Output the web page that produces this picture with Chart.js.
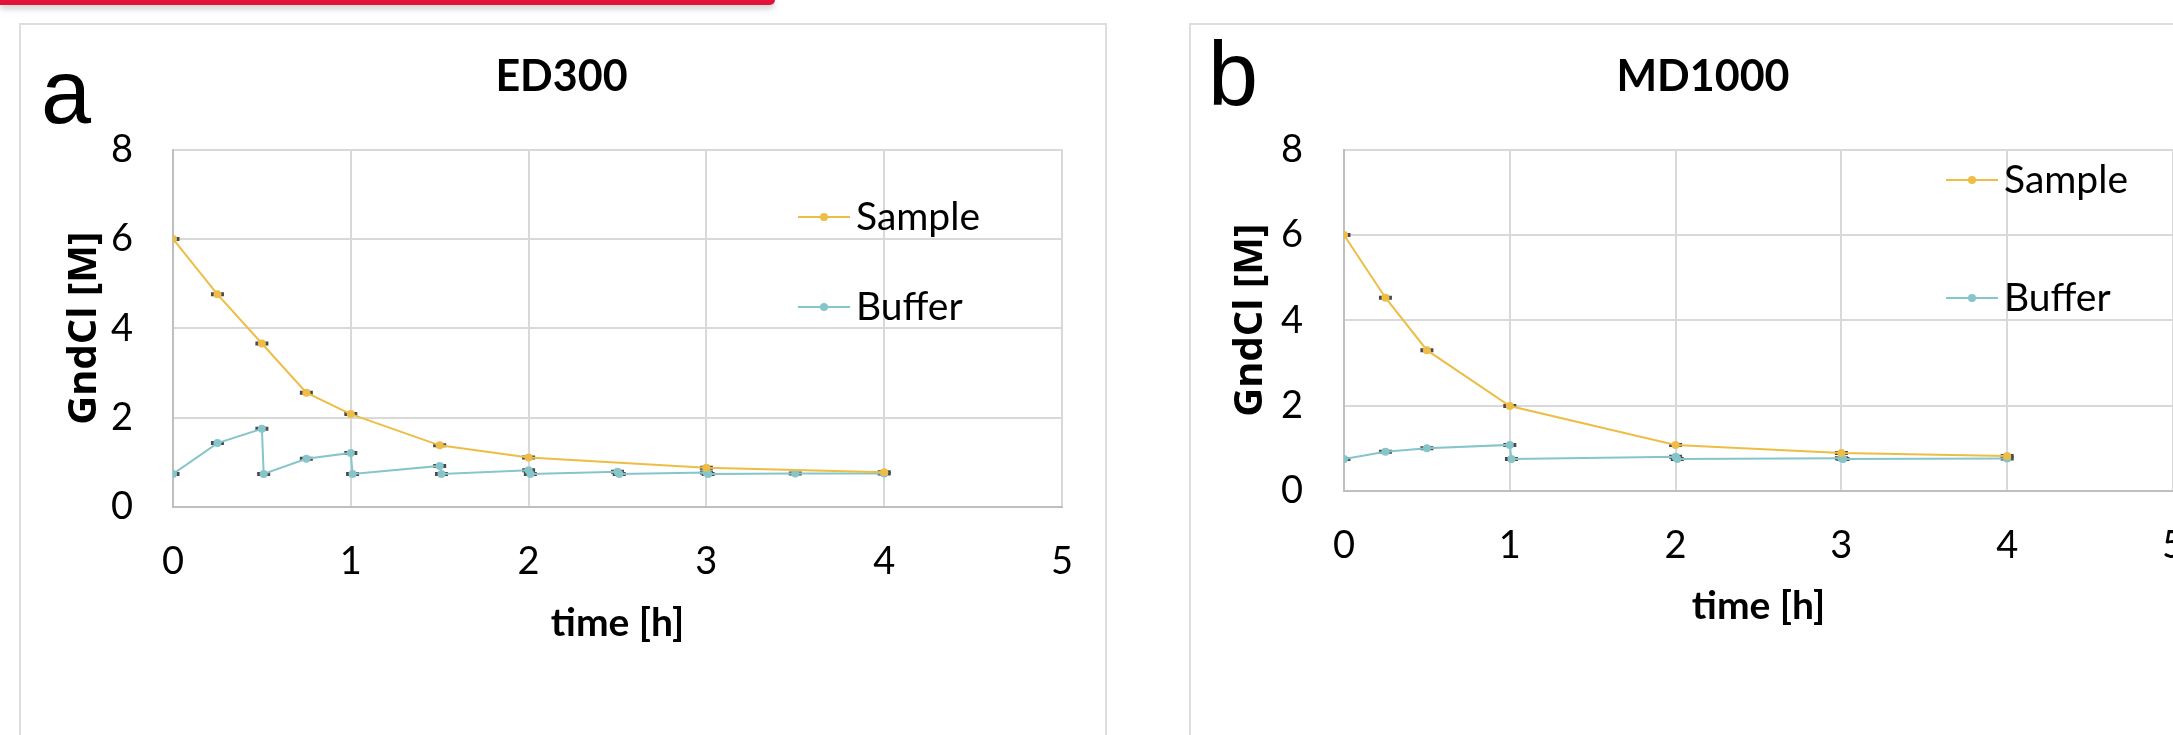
<!DOCTYPE html>
<html>
<head>
<meta charset="utf-8">
<script src="https://cdn.jsdelivr.net/npm/chart.js@4.4.0/dist/chart.umd.min.js"></script>
<style>
  body { margin: 0; width: 2173px; height: 735px; overflow: hidden; background: #fff; position: relative; }
  .bar { position: absolute; left: 0; top: 0; width: 775px; height: 5px; background: #e3123a;
         border-bottom-right-radius: 8px; box-shadow: 0 3px 6px rgba(0,0,0,0.25); }
  .panel { position: absolute; top: 23px; height: 760px; border: 2px solid #dedede; box-sizing: border-box; }
  .letter { position: absolute; font-family: 'Liberation Sans', Arial, sans-serif; font-size: 90px; line-height: 90px; color: #000; }
  canvas { position: absolute; }
</style>
</head>
<body>
<div class="bar"></div>
<div class="panel" style="left:19px; width:1088px;"></div>
<div class="panel" style="left:1189px; width:1100px;"></div>
<div class="letter" style="left:41px; top:47px;">a</div>
<div class="letter" style="left:1208px; top:29px;">b</div>
<canvas id="chartA" width="1085" height="710" style="left:20px; top:25px;"></canvas>
<canvas id="chartB" width="1026" height="710" style="left:1190px; top:25px;"></canvas>
<script>
// ED300
const sampleTimeA = [0, 0.25, 0.5, 0.75, 1, 1.5, 2, 3, 4];
const sampleA = [6.0, 4.76, 3.66, 2.56, 2.08, 1.38, 1.11, 0.88, 0.78];
const bufferTimeA = [0, 0.25, 0.5, 0.51, 0.75, 1, 1.01, 1.5, 1.51, 2, 2.01, 2.5, 2.51, 3, 3.01, 3.5, 4];
const bufferA = [0.74, 1.43, 1.75, 0.74, 1.08, 1.21, 0.74, 0.92, 0.74, 0.82, 0.74, 0.79, 0.74, 0.77, 0.74, 0.75, 0.75];

// MD1000
const sampleTimeB = [0, 0.25, 0.5, 1, 2, 3, 4];
const sampleB = [6.0, 4.53, 3.30, 1.99, 1.08, 0.89, 0.82];
const bufferTimeB = [0, 0.25, 0.5, 1, 1.01, 2, 2.01, 3, 3.01, 4];
const bufferB = [0.75, 0.92, 1.00, 1.08, 0.75, 0.80, 0.75, 0.77, 0.75, 0.76];

const xTicks = [0, 1, 2, 3, 4, 5];
const yTicks = [0, 2, 4, 6, 8];

const sampleColor = '#edbd45';
const bufferColor = '#86c5c9';

Chart.defaults.color = '#000';

function pts(xs, ys) {
    return xs.map((x, i) => ({x: x, y: ys[i]}));
}

// legend drawn inside the plot, right side
const sideLegend = {
    id: 'sideLegend',
    afterDraw(chart, args, opts) {
        const ctx = chart.ctx;
        ctx.save();
        ctx.font = '39px Lato';
        ctx.textBaseline = 'middle';
        let i = 0;
        chart.data.datasets.forEach(ds => {
            if (!ds.label) return;
            const y = opts.y[i++];
            ctx.strokeStyle = ds.borderColor;
            ctx.lineWidth = 2;
            ctx.beginPath();
            ctx.moveTo(opts.x, y);
            ctx.lineTo(opts.x + 52, y);
            ctx.stroke();
            ctx.fillStyle = ds.borderColor;
            ctx.beginPath();
            ctx.arc(opts.x + 26, y, 4, 0, Math.PI * 2);
            ctx.fill();
            ctx.fillStyle = '#000';
            ctx.fillText(ds.label, opts.x + 58, y);
        });
        ctx.restore();
    }
};

function makeChart(id, title, sT, sV, bT, bV, lay) {
    const sample = pts(sT, sV);
    const buffer = pts(bT, bV);
    const errSet = (data) => ({
        label: '', data: data, showLine: false, order: 3,
        pointStyle: 'line', pointRadius: 6.5, pointBorderWidth: 4,
        pointBorderColor: '#4a4a4a', pointHoverRadius: 6.5
    });
    return new Chart(document.getElementById(id), {
        type: 'scatter',
        data: {
            datasets: [
                {
                    label: 'Sample', data: sample, showLine: true, order: 1,
                    borderColor: sampleColor, backgroundColor: sampleColor, borderWidth: 2,
                    pointRadius: 4, pointBorderWidth: 0
                },
                {
                    label: 'Buffer', data: buffer, showLine: true, order: 2,
                    borderColor: bufferColor, backgroundColor: bufferColor, borderWidth: 2,
                    pointRadius: 4, pointBorderWidth: 0
                },
                errSet(sample),
                errSet(buffer)
            ]
        },
        options: {
            responsive: false,
            animation: false,
            layout: { padding: lay.padding },
            plugins: {
                legend: { display: false },
                tooltip: { enabled: false },
                title: {
                    display: true,
                    text: title,
                    font: { family: 'Lato', size: 43, weight: 'bold' },
                    padding: { top: 26, bottom: 47 }
                },
                sideLegend: lay.legend
            },
            scales: {
                x: {
                    type: 'linear', min: 0, max: 5,
                    afterFit: (s) => { s.height = lay.xH; },
                    afterBuildTicks: (s) => { s.ticks = xTicks.map(v => ({value: v})); },
                    ticks: { font: { family: 'Lato', size: 38 }, padding: 32, maxRotation: 0 },
                    grid: { color: '#d9d9d9', lineWidth: 2, drawTicks: false },
                    border: { color: '#bfbfbf', width: 2 },
                    title: {
                        display: true, text: 'time [h]',
                        font: { family: 'Lato', size: 39, weight: 'bold' },
                        padding: { top: 0, bottom: 0 }
                    }
                },
                y: {
                    type: 'linear', min: 0, max: 8,
                    afterFit: (s) => { s.width = lay.yW; },
                    afterBuildTicks: (s) => { s.ticks = yTicks.map(v => ({value: v})); },
                    ticks: { font: { family: 'Lato', size: 38 }, padding: lay.yPad },
                    grid: { color: '#d9d9d9', lineWidth: 2, drawTicks: false },
                    border: { color: '#bfbfbf', width: 2 },
                    title: {
                        display: true, text: 'GndCl [M]',
                        font: { family: 'Open Sans', size: 40, weight: 'bold', lineHeight: 1 },
                        padding: { top: lay.yTitlePad, bottom: 0 }
                    }
                }
            }
        },
        plugins: [sideLegend]
    });
}

makeChart('chartA', 'ED300', sampleTimeA, sampleA, bufferTimeA, bufferA, {
    padding: { left: 36, right: 38, top: 0, bottom: 88 },
    xH: 140, yW: 117, yPad: 40, yTitlePad: 9,
    legend: { x: 778, y: [192, 282] }
});

makeChart('chartB', 'MD1000', sampleTimeB, sampleB, bufferTimeB, bufferB, {
    padding: { left: 41, right: 41, top: 0, bottom: 105 },
    xH: 139, yW: 113, yPad: 41, yTitlePad: 0,
    legend: { x: 756, y: [155, 273] }
});
</script>
</body>
</html>
